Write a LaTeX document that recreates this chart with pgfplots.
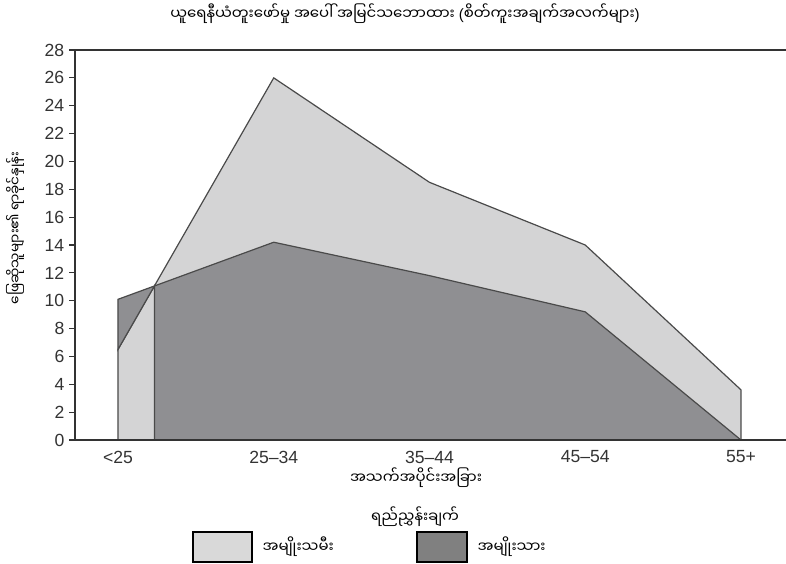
\documentclass[border=0pt]{standalone}
\usepackage{fontspec}
\setmainfont{Liberation Sans}
\newfontfamily\my[Script=Myanmar]{Noto Sans Myanmar UI}
\usepackage{pgfplots}
\pgfplotsset{compat=1.18}
\definecolor{lightf}{HTML}{D4D4D5}
\definecolor{darkf}{HTML}{8F8F92}
\definecolor{edge}{HTML}{4A4A4A}
\definecolor{axc}{HTML}{333333}
\definecolor{leglight}{HTML}{D9D9D9}
\definecolor{legdark}{HTML}{808080}
\newcommand{\mfs}{\my\fontsize{11.2}{13}\selectfont}
\begin{document}
\begin{tikzpicture}[x=0.75pt,y=-0.75pt]
\useasboundingbox (0,0) rectangle (786,564);
\begin{axis}[
  scale only axis, width=533.25pt, height=292.5pt,
  at={(56.25pt,-330pt)}, anchor=south west,
  xmin=-0.276, xmax=4.289, ymin=0, ymax=28,
  clip=false,
  axis line style={draw=none},
  xtick={0,1,2,3,4},
  xticklabels={<25,25--34,35--44,45--54,55+},
  ytick={0,2,...,28},
  ytick pos=left,
  tick align=outside,
  major tick length=4.5pt,
  major x tick style={draw=none},
  major y tick style={axc, line width=0.9pt},
  tick label style={font=\fontsize{13.2}{14}\selectfont, text=axc},
  /pgf/number format/assume math mode=true,
]
\addplot[fill=lightf, draw=edge, line width=0.9pt] coordinates {
  (0,0) (0,6.5) (1,26) (2,18.5) (3,14) (4,3.6) (4,0)} --cycle;
\addplot[fill=darkf, draw=edge, line width=0.9pt] coordinates {
  (0,10.1) (1,14.2) (2,11.8) (3,9.2) (4,0) (0.234,0) (0.234,11.06) (0,6.5)} --cycle;
\draw[axc, line width=1.1pt] (rel axis cs:0,1) -- (rel axis cs:0,0) -- (rel axis cs:1,0);
\draw[axc, line width=1.1pt] (rel axis cs:0,1) -- (rel axis cs:1,1);
\end{axis}
\node at (405,14) {\mfs ယူရေနီယံတူးဖော်မှု အပေါ် အမြင်သဘောထား {\normalfont(}စိတ်ကူးအချက်အလက်များ{\normalfont)}};
\node at (416,478) {\mfs အသက်အပိုင်းအခြား};
\node[rotate=90] at (15,228) {\my\fontsize{10.2}{12}\selectfont ဖြေဆိုသူများ၏ ရာခိုင်နှုန်း};
\node at (415,517) {\mfs ရည်ညွှန်းချက်};
\draw[black, line width=0.8pt, fill=leglight] (193,532) rectangle (252,562);
\node[anchor=west] at (258,547) {\mfs အမျိုးသမီး};
\draw[black, line width=0.8pt, fill=legdark] (417,532) rectangle (467,562);
\node[anchor=west] at (473,547) {\mfs အမျိုးသား};
\end{tikzpicture}
\end{document}
